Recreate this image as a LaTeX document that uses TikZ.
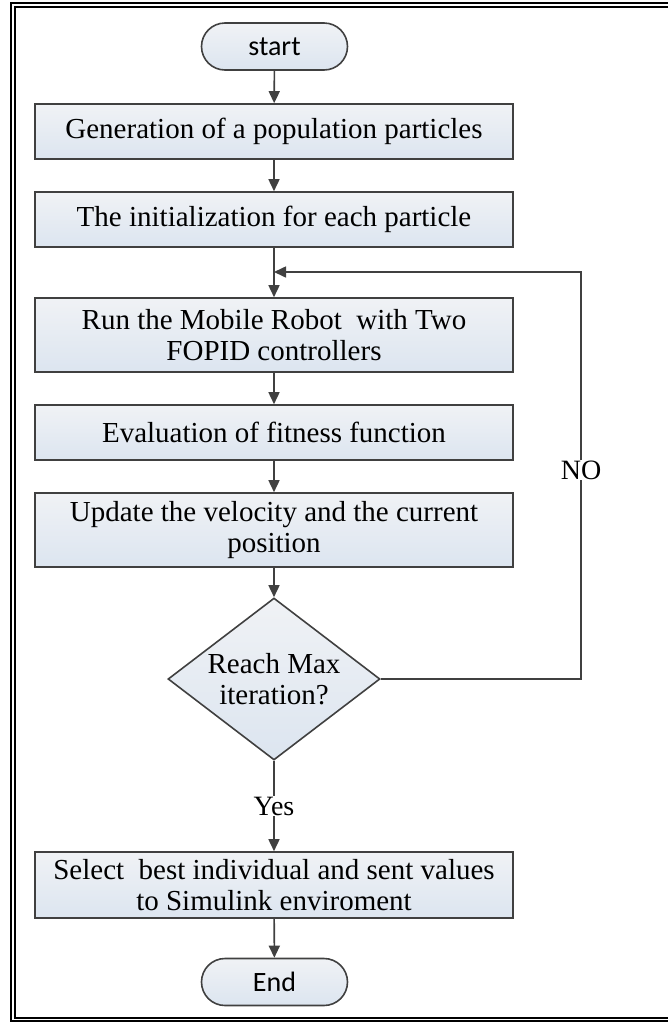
\documentclass[tikz,border=0pt]{standalone}
\usepackage{xcolor}
\usepackage{fontspec}
\setmainfont{Liberation Serif}
\newfontfamily\termfont{Carlito}
\usepackage{tikz}
\usetikzlibrary{shapes,shapes.geometric,arrows,arrows.meta,positioning}
\definecolor{boxtop}{HTML}{F0F2F5}
\definecolor{boxbot}{HTML}{DCE5F0}
\definecolor{edge}{HTML}{404040}
\tikzset{>={Triangle[width=11pt,length=12pt]}}

\begin{document}
\begin{tikzpicture}[
        x=1pt, y=-1pt,
        procbox/.style={
            draw=edge,
            line width=1.6pt,
            top color=boxtop,
            bottom color=boxbot,
            minimum width=478pt,
            inner sep=0pt,
            align=center,
            font=\fontsize{29}{31}\selectfont,
        },
        termbox/.style={
            draw=edge,
            line width=1.6pt,
            top color=boxtop,
            bottom color=boxbot,
            rounded rectangle,
            minimum width=146pt,
            minimum height=47pt,
            inner sep=0pt,
            font=\termfont\fontsize{28}{30}\selectfont,
        },
        flow/.style={->, draw=edge, line width=1.6pt},
        tag/.style={fill=white, inner sep=1pt, font=\fontsize{28}{30}\selectfont},
    ]
        \useasboundingbox (0,0) rectangle (667,1023);

        % double frame
        \draw[line width=1.3pt] (11,3) rectangle (700,1021);
        \draw[line width=1.3pt] (15,7) rectangle (696,1018);

        % start / end
        \node[termbox] (start) at (274.5,46.5) {start};
        \node[termbox] (stop) at (274.5,982) {End};

        % process steps
        \node[procbox, minimum height=55pt] (gen) at (274,131.5)
            {Generation of a population particles};
        \node[procbox, minimum height=55pt] (init) at (274,219.5)
            {The initialization for each particle};
        \node[procbox, minimum height=74pt] (run) at (274,335)
            {Run the Mobile Robot\ \ with Two\\FOPID controllers};
        \node[procbox, minimum height=55pt] (eval) at (274,432.5)
            {Evaluation of fitness function};
        \node[procbox, minimum height=74pt] (upd) at (274,530)
            {Update the velocity and the current\\position};

        % decision
        \node[
            diamond,
            draw=edge,
            line width=1.6pt,
            top color=boxtop,
            bottom color=boxbot,
            aspect=1.3,
            minimum width=212pt,
            minimum height=162pt,
            inner sep=0pt,
            align=center,
            font=\fontsize{29}{31}\selectfont,
        ] (reach) at (274,679) {Reach Max\\iteration?};

        \node[procbox, minimum height=66pt] (sel) at (274,885)
            {Select\ \ best individual and sent values\\to Simulink enviroment};

        % loop back
        \coordinate (loopR) at (581,272);
        \coordinate (join) at (274,272);

        \draw[flow] (start) -- (gen);
        \draw[flow] (gen) -- (init);
        \draw[flow] (init) -- (run);
        \draw[flow] (run) -- (eval);
        \draw[flow] (eval) -- (upd);
        \draw[flow] (upd) -- (reach);
        \draw[flow] (reach.south) -- node[tag] (yes) {Yes} (sel.north);
        \draw[flow] (sel) -- (stop);
        \draw[flow] (reach.east) -| (loopR) -- (join);
        \node[tag] (no) at (581,470) {NO};
    \end{tikzpicture}
\end{document}
